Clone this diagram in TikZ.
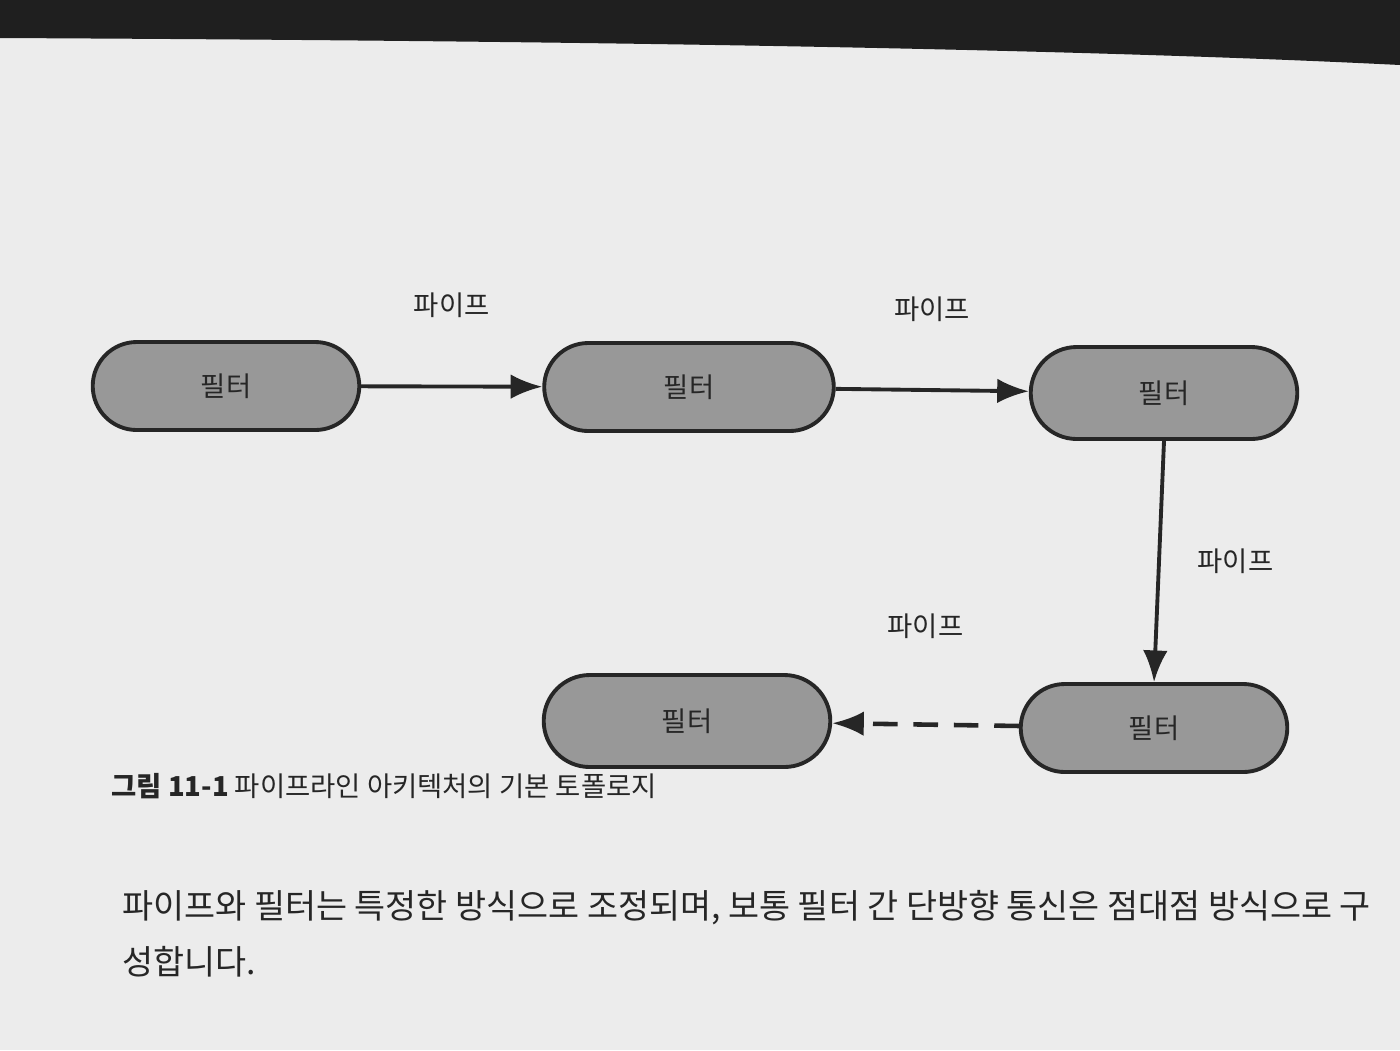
\documentclass[tikz,border=0pt]{standalone}
\usepackage{fontspec}
\setmainfont{Noto Sans CJK KR}
\usetikzlibrary{arrows.meta,positioning,shapes.misc}
\definecolor{pagegray}{RGB}{236,236,236}
\definecolor{filtergray}{RGB}{152,152,152}
\definecolor{inkdark}{RGB}{38,38,38}
\begin{document}
\begin{tikzpicture}[
  filterbox/.style={draw=inkdark,fill=filtergray,rounded rectangle,line width=1.1pt,
        minimum width=2.9cm,minimum height=0.88cm,
        font=\fontsize{7.8}{9}\selectfont,text=inkdark},
  pipelabel/.style={font=\fontsize{7.8}{9}\selectfont,text=inkdark},
  pipe/.style={-{Latex[length=9pt,width=7pt]},line width=1.1pt,draw=inkdark},
  bodytext/.style={anchor=west,font=\fontsize{9.6}{11}\selectfont,text=inkdark},
]
  % page of the book (photo)
  \useasboundingbox (0,0) rectangle (14,-10.5);
  \fill[pagegray] (0,0) rectangle (14,-10.5);
  \fill[black!88] (0,0) -- (14,0) -- (14,-0.65)
        .. controls (10,-0.45) and (4,-0.4) .. (0,-0.38) -- cycle;

  % filters
  \node[filterbox] (f1) at (2.26,-3.86) {필터};
  \node[filterbox,minimum width=3.13cm] (f2) at (6.89,-3.87) {필터};
  \node[filterbox,minimum height=0.92cm] (f3) at (11.64,-3.93) {필터};
  \node[filterbox] (f4) at (11.54,-7.28) {필터};
  \node[filterbox,minimum width=3.1cm,minimum height=0.92cm] (f5) at (6.87,-7.21) {필터};

  % pipes
  \draw[pipe] (f1) -- node[pipelabel,above=0.55cm] (p1) {파이프} (f2);
  \draw[pipe] (f2) -- node[pipelabel,above=0.55cm] (p2) {파이프} (f3);
  \draw[pipe] (f3.south) -- node[pipelabel,right=0.25cm] (p3) {파이프} (f4.north);
  \draw[pipe,line width=1.3pt,dash pattern=on 7pt off 4.5pt] (f4) -- node[pipelabel,above=0.72cm] (p4) {파이프} (f5);

  % caption and text
  \node[anchor=west,font=\fontsize{7.8}{9}\selectfont,text=inkdark] (cap) at (0.99,-7.86)
        {\textbf{그림 11-1} 파이프라인 아키텍처의 기본 토폴로지};
  \node[bodytext] (t1) at (1.1,-9.08)
        {파이프와 필터는 특정한 방식으로 조정되며, 보통 필터 간 단방향 통신은 점대점 방식으로 구};
  \node[bodytext] (t2) at (1.1,-9.62) {성합니다.};
\end{tikzpicture}
\end{document}
